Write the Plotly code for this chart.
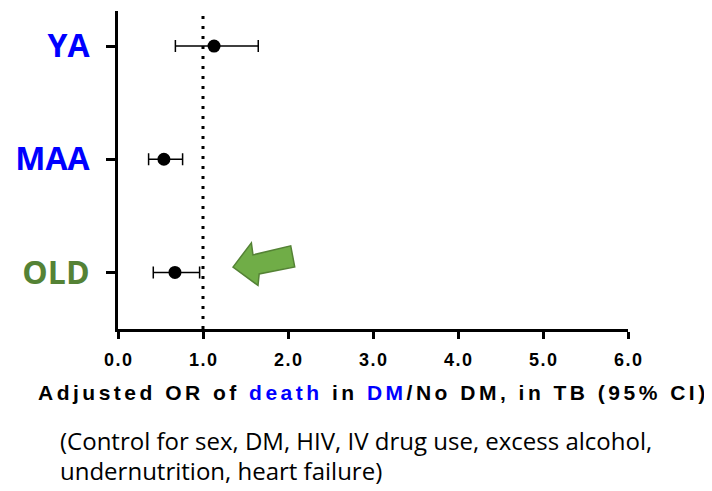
import plotly.graph_objects as go

groups = ["YA", "MAA", "OLD"]
odds_ratio = [1.13, 0.54, 0.67]
ci_low = [0.675, 0.36, 0.415]
ci_high = [1.65, 0.76, 0.96]
group_colors = ["#0000FF", "#0000FF", "#548235"]
x_ticks = [0, 1, 2, 3, 4, 5, 6]
x_tick_labels = ["0.0", "1.0", "2.0", "3.0", "4.0", "5.0", "6.0"]

GAP = "\u2006"
HAIR = "\u200a"

def spaced(s, sep=GAP):
    return sep.join(list(s))

err_plus = [h - v for h, v in zip(ci_high, odds_ratio)]
err_minus = [v - l for l, v in zip(ci_low, odds_ratio)]

fig = go.Figure()
fig.add_trace(go.Scatter(
    x=odds_ratio, y=groups, mode="markers",
    marker=dict(color="black", size=13),
    error_x=dict(type="data", symmetric=False, array=err_plus, arrayminus=err_minus,
                 color="black", thickness=1.5, width=6),
    showlegend=False, hoverinfo="skip",
))

# reference line at OR = 1
fig.add_shape(type="line", xref="x", yref="paper", x0=1, x1=1, y0=0, y1=1,
              line=dict(color="black", width=3, dash="3px,7px"), layer="above")

# green arrow pointing at OLD
fig.add_shape(type="path", xref="x", yref="y",
              path="M 1.353 0.047 L 1.569 0.261 L 1.588 0.155 L 2.032 0.235 L 2.079 0.049 L 1.661 -0.013 L 1.647 -0.115 Z",
              fillcolor="#70AD47", line=dict(color="#548235", width=1.5))

title_html = (spaced("Adjusted OR of") + GAP + " " + GAP +
              "<span style='color:#0000FF'>" + spaced("death") + "</span>" + GAP + " " + GAP +
              spaced("in") + GAP + " " + GAP +
              "<span style='color:#0000FF'>" + spaced("DM") + "</span>" + GAP +
              spaced("/No DM, in TB (95% CI)"))

fig.add_annotation(text="<b>" + title_html + "</b>", xref="paper", yref="paper",
                   x=(372 - 118.3) / (628 - 118.3), y=-(392 - 329) / (329 - 11),
                   xanchor="center", yanchor="middle", showarrow=False,
                   font=dict(family="Liberation Sans", size=21, color="black"))

note_font = dict(family="Open Sans", size=24, color="black")
fig.add_annotation(text="(Control for sex, DM, HIV, IV drug use, excess alcohol,",
                   xref="paper", yref="paper",
                   x=(58 - 118.3) / (628 - 118.3), y=-(440 - 329) / (329 - 11),
                   xanchor="left", yanchor="middle", showarrow=False, font=note_font)
fig.add_annotation(text="undernutrition, heart failure)",
                   xref="paper", yref="paper",
                   x=(58 - 118.3) / (628 - 118.3), y=-(470 - 329) / (329 - 11),
                   xanchor="left", yanchor="middle", showarrow=False, font=note_font)

y_tick_text = ["<span style='color:%s'><b>%s</b></span>" % (c, g) for g, c in zip(groups, group_colors)]

fig.update_layout(
    width=712, height=491,
    margin=dict(l=110, r=92, t=3, b=170),
    plot_bgcolor="white", paper_bgcolor="white",
    xaxis=dict(range=[0, 6], tickvals=x_ticks,
               ticktext=["<b>" + spaced(t, HAIR) + "</b>" for t in x_tick_labels],
               showgrid=False, zeroline=False, showline=True, linecolor="black", linewidth=3,
               ticks="outside", ticklen=7, tickwidth=3, tickcolor="black",
               tickfont=dict(family="Liberation Sans", size=18, color="black"),
               ticklabelstandoff=5),
    yaxis=dict(type="category", categoryorder="array", categoryarray=["OLD", "MAA", "YA"],
               range=[-0.5, 2.31], tickvals=groups, ticktext=y_tick_text,
               showgrid=False, zeroline=False, showline=True, linecolor="black", linewidth=3,
               ticks="outside", ticklen=9, tickwidth=3, tickcolor="black",
               tickfont=dict(family="Open Sans", size=32),
               ticklabelstandoff=10),
)

fig.write_html("out.html")
